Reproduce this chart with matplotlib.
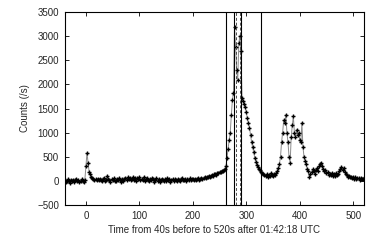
import numpy as np
import matplotlib
matplotlib.use("Agg")
import matplotlib.pyplot as plt

plt.rcParams['font.family'] = ['Liberation Sans', 'DejaVu Sans']

# time bins (s), 2-s bins from -40 to 520
time = np.arange(-40, 521, 2)

pre = [10, -20, 5, 30, -10, -35, 15, 0, 25, -15, 20, 40, -5, 10, -30, 5, 35, 0, -20, 15]
precursor = [300, 580, 380, 190, 150, 80, 60, 40, 20, 30, 10]
quiet = [30, 10, 40, 20, -10, 30, 50, 0, 20, 110, 40, 10, -20, 30, 20, 50, -10, 0, 40, 10,
         60, 20, -30, 30, 0, 40, 50, 20, 70, 30, 60, 10, 40, 80, 20, 50, 0, 60, 30, 70,
         10, 40, 20, 80, -10, 30, 50, 20, 0, 40, 10, 60, 30, -20, 20, 50, 0, 30, -30, 10,
         40, 20, -10, 30, 0, 50, 10, 30, -20, 20, 40, 0, 30, 10, -10, 40, 20, 0, 30, 50,
         10, 20, 40, 0, 30, 20, 50, 10, 30, 40]
rise = [20, 40, 10, 30, 50, 20, 40, 60, 30, 50, 70, 60, 80, 70, 100, 80, 110, 130, 100, 140,
        150, 130, 170, 160, 190, 180, 210, 200, 220, 240]
main_peak = [300, 480, 660, 850, 1000, 1360, 1680, 1820, 3200, 2780, 2300, 2100, 2850, 3000,
             2700, 1720, 1650, 1600, 1540, 1420, 1300, 1200, 1100, 950, 800, 700, 590, 470,
             400, 330, 280, 250, 220, 190, 170]
gap = [150, 120, 100, 140, 90, 130, 110, 160, 120, 100, 150, 130, 170, 200, 260]
second = [350, 500, 800, 1000, 1260, 1200, 1370, 1000, 800, 500, 380, 900, 1150, 1340, 1000,
          900, 1060, 950, 1000, 850, 800, 1200, 700, 500, 420, 350, 250, 200, 90, 150]
tail = [180, 240, 200, 150, 220, 260, 200,
        300, 340, 370, 300, 250, 200,
        220, 160, 180, 130, 150, 120, 170, 110, 140, 100, 160, 120,
        150, 200, 250, 280, 230, 260, 180, 150,
        120, 90, 100, 70, 90, 50, 80, 40, 70, 30, 60, 50, 20, 60, 40, 30, 50]
counts = np.array(pre + precursor + quiet + rise + main_peak + gap + second + tail)

solid_lines = [262, 277, 291, 328]
dashed_lines = [280, 289]

xticks = [0, 100, 200, 300, 400, 500]
yticks = [-500, 0, 500, 1000, 1500, 2000, 2500, 3000, 3500]

fig = plt.figure(figsize=(3.74, 2.42), dpi=100)
ax = fig.add_axes([0.1725, 0.153, 0.8005, 0.797])

ax.plot(time, counts, color='0.55', lw=0.7, zorder=2)
ax.plot(time, counts, ls='none', marker='+', ms=3.5, mew=1.0, color='black', zorder=3)
ax.plot(time, counts, ls='none', marker='o', ms=1.3, mew=0, color='black', zorder=3)

for x in solid_lines:
    ax.axvline(x, color='black', lw=0.8, zorder=4)
for x in dashed_lines:
    ax.axvline(x, color='0.3', lw=0.7, ls=(0, (3, 2)), zorder=4)

ax.set_xlim(-40, 520)
ax.set_ylim(-500, 3500)
ax.set_xticks(xticks)
ax.set_yticks(yticks)
ax.tick_params(direction='in', length=3, width=0.6, top=True, right=True,
               labelsize=7, pad=4, labelcolor='0.15')
for s in ax.spines.values():
    s.set_linewidth(0.8)

ax.set_xlabel('Time from 40s before to 520s after 01:42:18 UTC', fontsize=7,
              labelpad=3, color='0.15')
ax.set_ylabel('Counts (/s)', fontsize=7, labelpad=5, color='0.15')

fig.savefig('out.png', dpi=100)
